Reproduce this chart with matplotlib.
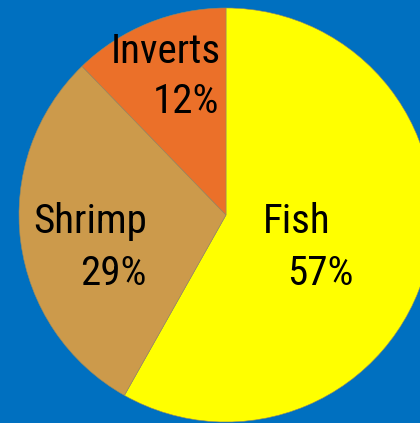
import matplotlib
matplotlib.use('Agg')
import matplotlib.pyplot as plt

plt.rcParams['font.family'] = ['Roboto Condensed', 'Liberation Sans', 'DejaVu Sans']

# data
names = ['Fish', 'Shrimp', 'Inverts']
values = [57, 29, 12]
colors = ['#FFFF00', '#CC9A4B', '#EB7029']
bg = '#0070C0'

fig = plt.figure(figsize=(4.2, 4.23), dpi=100)
fig.patch.set_facecolor(bg)
ax = fig.add_axes([0, 0, 1, 1])
ax.set_facecolor(bg)

# clockwise from 12 o'clock
ax.pie(values, colors=colors, startangle=90, counterclock=False,
       radius=1, wedgeprops=dict(linewidth=0.4, edgecolor='#9a8a60'))

ax.set_aspect('auto')
ax.set_xlim(-1.0918, 0.9372)
ax.set_ylim(-1.0048, 1.0386)
ax.axis('off')

# labels (name line + percent line)
fs = 29.5
kw = dict(va='baseline', fontsize=fs)
ax.text(-0.024, 0.734, names[2], ha='right', **kw)
ax.text(-0.034, 0.493, '%d%%' % values[2], ha='right', **kw)
ax.text(-0.382, -0.087, names[1], ha='right', **kw)
ax.text(-0.382, -0.338, '%d%%' % values[1], ha='right', **kw)
ax.text(0.179, -0.087, names[0], ha='left', **kw)
ax.text(0.295, -0.338, '%d%%' % values[0], ha='left', **kw)

fig.savefig('out.png', dpi=100, facecolor=bg)
